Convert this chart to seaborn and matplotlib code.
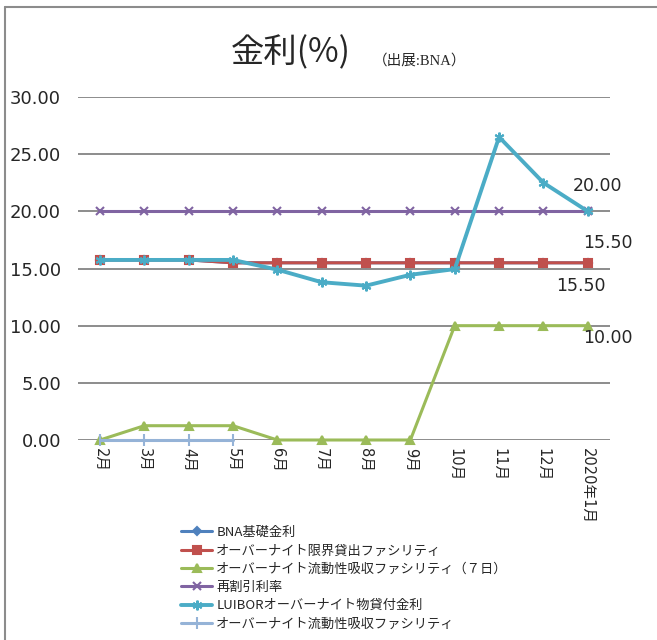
import numpy as np
import pandas as pd
import matplotlib
matplotlib.use("Agg")
import matplotlib.pyplot as plt
from matplotlib.lines import Line2D
import seaborn as sns

months = ["2月", "3月", "4月", "5月", "6月", "7月", "8月", "9月",
          "10月", "11月", "12月", "2020年1月"]

bna_base = [15.75, 15.75, 15.75, 15.5, 15.5, 15.5, 15.5, 15.5, 15.5, 15.5, 15.5, 15.5]
overnight_lending = [15.75, 15.75, 15.75, 15.5, 15.5, 15.5, 15.5, 15.5, 15.5, 15.5, 15.5, 15.5]
absorb_7d = [0, 1.25, 1.25, 1.25, 0, 0, 0, 0, 10, 10, 10, 10]
discount = [20, 20, 20, 20, 20, 20, 20, 20, 20, 20, 20, 20]
luibor = [15.75, 15.75, 15.75, 15.75, 14.9, 13.8, 13.5, 14.45, 14.95, 26.5, 22.5, 20.0]
absorb = [0, 0, 0, 0, np.nan, np.nan, np.nan, np.nan, np.nan, np.nan, np.nan, np.nan]

series_names = ["BNA基礎金利",
                "オーバーナイト限界貸出ファシリティ",
                "オーバーナイト流動性吸収ファシリティ（７日）",
                "再割引利率",
                "LUIBORオーバーナイト物貸付金利",
                "オーバーナイト流動性吸収ファシリティ"]
series_values = [bna_base, overnight_lending, absorb_7d, discount, luibor, absorb]
colors = ["#4F81BD", "#C0504D", "#9BBB59", "#8064A2", "#4BACC6", "#95B3D7"]
markers = ["D", "s", "^", "x", (6, 2, 0), "|"]
msizes = [4, 6, 6, 6, 7, 9]
lwidths = [2.2, 2.2, 2.2, 2.2, 2.8, 2.2]

sns.set_style("white")
plt.rcParams["font.family"] = ["DejaVu Sans", "Noto Sans CJK JP"]

fig = plt.figure(figsize=(6.57, 6.4), dpi=100)
ax = fig.add_axes([0.1184, 0.3125, 0.81, 0.5359])

x = np.arange(len(months))
for name, vals, c, m, ms, lw in zip(series_names, series_values, colors, markers, msizes, lwidths):
    df = pd.DataFrame({"x": x, "y": vals}).dropna()
    sns.lineplot(data=df, x="x", y="y", ax=ax, color=c, marker=m, markersize=ms,
                 markeredgecolor=c, markeredgewidth=1.5, linewidth=lw, label=name,
                 legend=False, clip_on=False)

ax.set_xlim(-0.5, len(months) - 0.5)
ax.set_ylim(0, 30)
ax.set_yticks(np.arange(0, 31, 5))
ax.set_yticklabels([f"{v:.2f}" for v in np.arange(0, 31, 5)], fontsize=13)
ax.set_xticks(x)
ax.set_xticklabels(months, rotation=270, fontsize=10.5, family=["DejaVu Sans", "Noto Sans CJK JP"])
ax.tick_params(axis="both", length=0)
ax.tick_params(axis="y", pad=12)
ax.tick_params(axis="x", pad=6)
ax.set_xlabel("")
ax.set_ylabel("")
for s in ax.spines.values():
    s.set_visible(False)
ax.yaxis.grid(True, color="#8C8C8C", linewidth=1.4)
ax.set_axisbelow(True)

# data labels at the last month
last = len(months) - 1
labels = [(discount[last], "20.00", 10, 25),
          (overnight_lending[last], "15.50", 20, 20),
          (bna_base[last], "15.50", -7, -23),
          (absorb_7d[last], "10.00", 20, -12)]
for yv, txt, dx, dy in labels:
    ax.annotate(txt, (last, yv), xytext=(dx, dy), textcoords="offset pixels",
                ha="center", va="center", fontsize=12.5, annotation_clip=False)

fig.text(0.442, 0.917, "金利(%)", fontsize=24, ha="center", va="center",
         family=["Noto Sans CJK JP"])
fig.text(0.639, 0.906, "（出展:BNA）", fontsize=10.5, ha="center", va="center",
         family=["Liberation Serif", "Noto Sans CJK JP"])

handles, labs = ax.get_legend_handles_labels()
fig.legend(handles, labs, loc="upper left", bbox_to_anchor=(0.275, 0.178),
           frameon=False, handlelength=2.4, handletextpad=0.3,
           labelspacing=0.4, borderaxespad=0, borderpad=0,
           prop={"family": ["Noto Sans CJK JP"], "size": 9.5})

# chart area border (partly cropped in the reference)
fig.add_artist(Line2D([0.008, 1.0], [0.989, 0.989], color="#8C8C8C", linewidth=1.5,
                      transform=fig.transFigure))
fig.add_artist(Line2D([0.008, 0.008], [0.0, 0.989], color="#8C8C8C", linewidth=1.5,
                      transform=fig.transFigure))

fig.savefig("out.png", dpi=100)
